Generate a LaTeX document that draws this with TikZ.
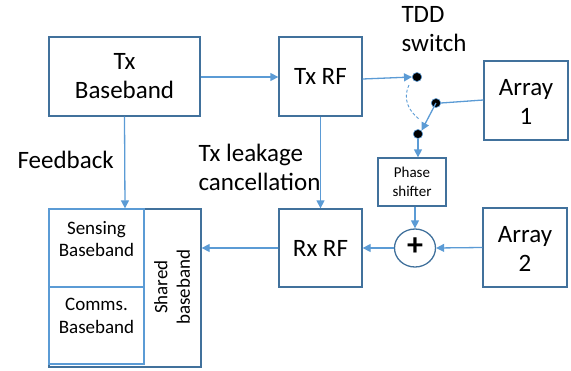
\documentclass[tikz,border=0pt]{standalone}
\usepackage{fontspec}
\setmainfont{Carlito}
\usetikzlibrary{arrows.meta,shapes.geometric}
\definecolor{boxc}{HTML}{41719C}
\definecolor{arrc}{HTML}{5B9BD5}
\begin{document}
\begin{tikzpicture}[x=1pt,y=-1pt,
  blk/.style={draw=boxc,line width=1.3pt,fill=white,inner sep=0pt},
  inblk/.style={draw=arrc,line width=1.3pt,inner sep=0pt},
  arr/.style={draw=arrc,line width=1.3pt,-{Triangle[length=8pt,width=8pt]}},
  ln/.style={draw=arrc,line width=1.3pt},
  dotn/.style={ellipse,fill=black,draw=arrc,line width=0.6pt,minimum width=9.5pt,minimum height=9pt,inner sep=0pt},
  big/.style={font=\fontsize{25}{29}\selectfont,align=center},
  mid/.style={font=\fontsize{19}{22.5}\selectfont,align=center},
  sml/.style={font=\fontsize{15}{19}\selectfont,align=center}]
\useasboundingbox (0,0) rectangle (571,370);
% blocks
\node[blk,minimum width=151pt,minimum height=79pt] (txbb) at (124.5,76.5) {};
\node[big] at (txbb.center) {Tx\\Baseband};
\node[blk,minimum width=83pt,minimum height=79pt] (txrf) at (320.5,76.5) {};
\node[big] at (txrf.center) {Tx RF};
\node[blk,minimum width=83pt,minimum height=78pt] (rxrf) at (320.5,248) {};
\node[big] at (rxrf.center) {Rx RF};
\node[blk,minimum width=84pt,minimum height=79pt] (arr1) at (526,100.5) {};
\node[big] at (526,102) {Array\\1};
\node[blk,minimum width=84pt,minimum height=79pt] (arr2) at (525,247.5) {};
\node[big] at (525,249) {Array\\2};
\node[blk,minimum width=68pt,minimum height=48pt] (ps) at (412,182) {};
\node[sml] at (ps.center) {Phase\\shifter};
\node[ellipse,draw=boxc,line width=1.3pt,minimum width=41pt,minimum height=38pt,inner sep=0pt] (sum) at (415,248) {};
\node[font=\fontsize{32}{32}\selectfont\bfseries] at (415,246.5) {+};
% shared baseband
\node[blk,minimum width=152pt,minimum height=158pt] (sh) at (125,288) {};
\node[inblk,minimum width=95pt,minimum height=78pt] (sens) at (96.5,248) {};
\node[inblk,minimum width=95pt,minimum height=77pt] (comm) at (96.5,325.5) {};
\node[mid] at (96.5,239) {Sensing\\Baseband};
\node[mid] at (96.5,316) {Comms.\\Baseband};
\node[mid,rotate=90] at (172,287) {Shared\\baseband};
% switch dots
\node[dotn] (d1) at (417,77) {};
\node[dotn] (d2) at (436,103) {};
\node[dotn] (d3) at (418,134) {};
% labels
\node[big,anchor=west,align=left] at (398,29) {TDD\\switch};
\node[big,anchor=west] at (14,160) {Feedback};
\node[big,anchor=west,align=left] at (195,167) {Tx leakage\\cancellation};
% connectors
\draw[arr] (txbb.east |- 0,77) -- (txrf.west |- 0,77);
\draw[arr] (txrf.east |- 0,79) -- (d1.west);
\draw[ln] (arr1.west |- 0,100) -- (d2.east);
\draw[arr] (d2.center) -- (d3.north east);
\draw[arrc,line width=0.9pt,dash pattern=on 3pt off 2pt] (409,85) .. controls (402,100) and (410,112) .. (419,119);
\draw[arr] (d3.south) -- (ps.north -| d3.south);
\draw[arr] (ps.south -| sum.north) -- (sum.north);
\draw[arr] (arr2.west) -- (sum.east);
\draw[arr] (sum.west) -- (rxrf.east |- sum.west);
\draw[arr] (rxrf.west) -- (sh.east |- rxrf.west);
\draw[arr] (txbb.south) -- (sh.north);
\draw[arr] (txrf.south) -- (rxrf.north);
\end{tikzpicture}
\end{document}
